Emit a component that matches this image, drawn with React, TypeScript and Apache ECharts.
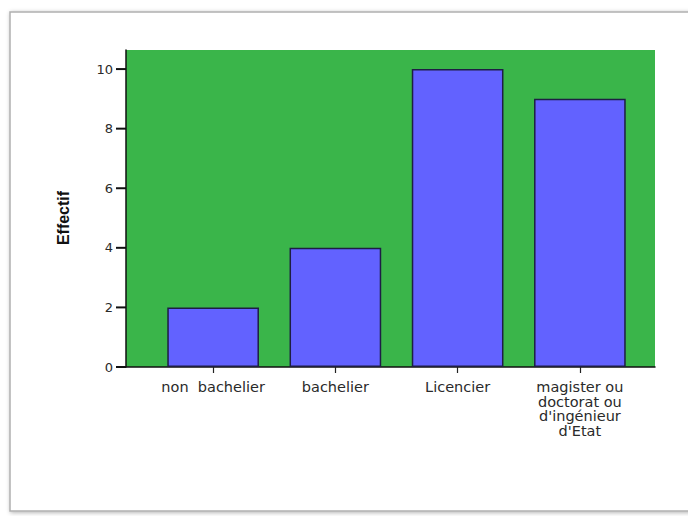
import React, { useEffect, useRef } from "react";
import * as echarts from "echarts";

// Niveau d'instruction : effectifs par catégorie
const categories = [
  "non  bachelier",
  "bachelier",
  "Licencier",
  "magister ou\ndoctorat ou\nd'ingénieur\nd'Etat",
];
const effectifs = [2, 4, 10, 9];
const yTicks = [0, 2, 4, 6, 8, 10];
const yAxisName = "Effectif";

const FONT = "'Liberation Sans', Arial, sans-serif";
const LABEL_FONT = "'DejaVu Sans', 'Liberation Sans', sans-serif";
const GREEN = "#3ab54a";
const BAR = "#6262ff";

export default function App() {
  const ref = useRef<HTMLDivElement>(null);

  useEffect(() => {
    if (!ref.current) return;
    const chart = echarts.init(ref.current, null, { renderer: "svg" });
    // the plot area runs a little above the last tick
    const yMax = 10.64;
    const plotTop = 50;
    const plotBottom = 149;
    const tickLen = 10;
    chart.setOption({
      animation: false,
      backgroundColor: "#ffffff",
      graphic: [
        {
          type: "rect",
          z: -10,
          shape: { x: 10, y: 12, width: 690, height: 499 },
          style: {
            fill: "#ffffff",
            stroke: "#b0b0b0",
            lineWidth: 1.5,
            shadowColor: "rgba(0,0,0,0.3)",
            shadowBlur: 4,
            shadowOffsetX: 1,
            shadowOffsetY: 1,
          },
        },
        {
          type: "text",
          x: 63,
          y: 218,
          rotation: Math.PI / 2,
          style: {
            text: yAxisName,
            font: `bold 16px ${FONT}`,
            fill: "#111",
            align: "center",
            verticalAlign: "middle",
          },
        },
      ],
      grid: [
        {
          left: 126,
          right: 33,
          top: plotTop,
          bottom: plotBottom,
          show: true,
          backgroundColor: GREEN,
          borderWidth: 0,
        },
        {
          left: 152,
          right: 47,
          top: plotTop,
          bottom: plotBottom,
        },
      ],
      xAxis: [
        {
          gridIndex: 0,
          type: "value",
          min: 0,
          max: 1,
          splitLine: { show: false },
          axisLine: { show: true, lineStyle: { color: "#111", width: 1.5 } },
          axisTick: { show: false },
          axisLabel: { show: false },
        },
        {
          gridIndex: 1,
          type: "category",
          data: categories,
          axisLine: { show: false },
          axisTick: {
            show: true,
            alignWithLabel: true,
            length: 6,
            lineStyle: { color: "#222", width: 1.2 },
          },
          axisLabel: {
            show: true,
            interval: 0,
            margin: 13,
            color: "#2a2a2a",
            fontFamily: LABEL_FONT,
            fontSize: 14.5,
            lineHeight: 14.5,
            align: "center",
          },
        },
      ],
      yAxis: [
        {
          gridIndex: 0,
          type: "value",
          min: 0,
          max: yMax,
          splitLine: { show: false },
          axisLine: { show: true, lineStyle: { color: "#111", width: 1.5 } },
          axisTick: { show: false },
          axisLabel: {
            show: true,
            customValues: yTicks,
            margin: 13,
            color: "#2a2a2a",
            fontFamily: LABEL_FONT,
            fontSize: 13,
          },
        },
        {
          gridIndex: 1,
          type: "value",
          min: 0,
          max: yMax,
          show: false,
          splitLine: { show: false },
        },
      ],
      series: [
        {
          // outward tick marks on the value axis
          type: "custom",
          xAxisIndex: 0,
          yAxisIndex: 0,
          clip: false,
          data: yTicks.map((v) => [0, v]),
          encode: { x: 0, y: 1 },
          silent: true,
          z: 5,
          renderItem: (params: any, api: any) => {
            const pt = api.coord([0, api.value(1)]);
            return {
              type: "line",
              shape: { x1: pt[0] - tickLen, y1: pt[1], x2: pt[0], y2: pt[1] },
              style: { stroke: "#111", lineWidth: 2, fill: null },
            };
          },
        },
        {
          type: "bar",
          xAxisIndex: 1,
          yAxisIndex: 1,
          data: effectifs,
          barCategoryGap: "25%",
          itemStyle: {
            color: BAR,
            borderColor: "#1e1e44",
            borderWidth: 1.5,
          },
        },
      ],
    });
    return () => chart.dispose();
  }, []);

  return (
    <div
      ref={ref}
      style={{ position: "fixed", left: 0, top: 0, width: 688, height: 516 }}
    />
  );
}
